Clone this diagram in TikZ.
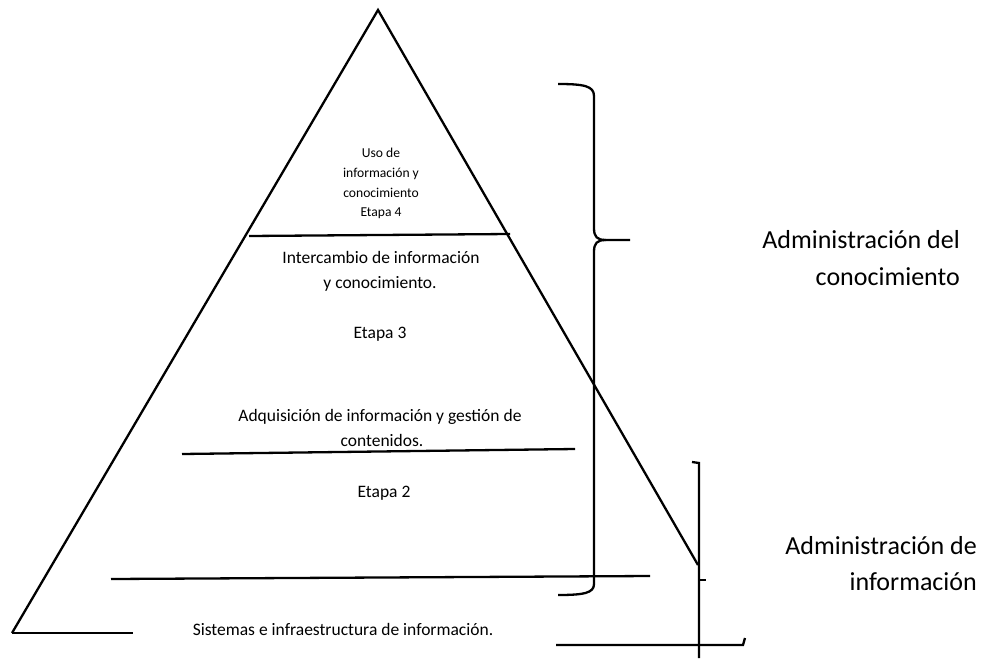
\documentclass[tikz,border=0pt]{standalone}
\usepackage{fontspec}
\setmainfont{Carlito}
\begin{document}
\begin{tikzpicture}[x=1pt,y=-1pt,
  ln/.style={line width=2.3pt,line cap=butt,line join=miter},
  lbl/.style={anchor=base,inner sep=0pt,font=\fontsize{17.5}{20}\selectfont},
  sml/.style={anchor=base,inner sep=0pt,font=\fontsize{13.6}{16}\selectfont},
  big/.style={anchor=base east,inner sep=0pt,font=\fontsize{26}{30}\selectfont}]
\useasboundingbox (0,0) rectangle (981,658);
% pyramid sides
\coordinate (apex) at (378,10);
\coordinate (bl) at (12,633);
\coordinate (br) at (698,565);
\draw[ln] (bl) -- (apex) -- (br);
\draw[ln] (bl) -- (133,633);
\draw[ln] (556,645) -- (743,645) -- (745,638);
% level lines
\draw[ln] (249,236) -- (510,234);
\draw[ln] (182,454) -- (575,449);
\draw[ln] (111,579) -- (650,576);
% big brace
\draw[ln] (558,84) .. controls (584,84) and (594,86) .. (594,96) -- (594,228)
  .. controls (594,237) and (597,240) .. (606,240) -- (630,240);
\draw[ln] (606,240) .. controls (597,240) and (594,243) .. (594,252) -- (594,584)
  .. controls (594,593) and (584,595) .. (558,595);
% small bracket
\draw[ln] (692,462) -- (699,463) -- (699,658);
\draw[ln] (699,580) -- (706,580);
% texts
\node[sml] (t4a) at (381,157) {Uso de};
\node[sml] (t4b) at (381,177) {información y};
\node[sml] (t4c) at (381,197) {conocimiento};
\node[sml] (t4d) at (381,216) {Etapa 4};
\node[lbl] (t3a) at (381,263) {Intercambio de información};
\node[lbl] (t3b) at (380,288) {y conocimiento.};
\node[lbl] (t3) at (380,338) {Etapa 3};
\node[lbl] (t2a) at (380,421) {Adquisición de información y gestión de};
\node[lbl] (t2b) at (382,446) {contenidos.};
\node[lbl] (t2) at (384,497) {Etapa 2};
\node[lbl] (t1) at (343,635) {Sistemas e infraestructura de información.};
\node[big] (ak1) at (960,248) {Administración del};
\node[big] (ak2) at (960,285) {conocimiento};
\node[big] (ai1) at (977,554) {Administración de};
\node[big] (ai2) at (977,590) {información};
\end{tikzpicture}
\end{document}
